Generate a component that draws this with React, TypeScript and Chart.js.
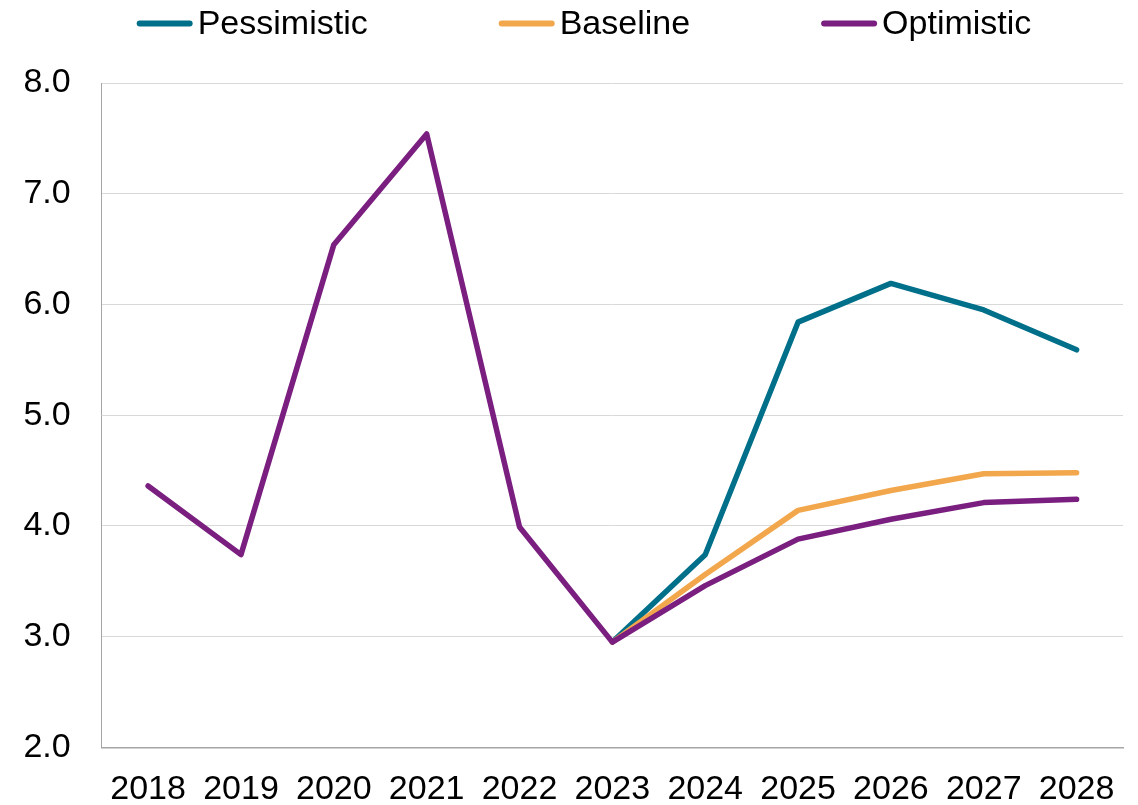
import React, { useEffect, useRef } from "react";
import { Chart, registerables } from "chart.js";

Chart.register(...registerables);

// Years on the horizontal axis
const years = ["2018", "2019", "2020", "2021", "2022", "2023", "2024", "2025", "2026", "2027", "2028"];

// Scenario paths; the two alternative scenarios branch off in 2023
const pessimistic = [null, null, null, null, null, 2.95, 3.74, 5.84, 6.19, 5.95, 5.59];
const baseline = [null, null, null, null, null, 2.95, 3.56, 4.14, 4.32, 4.47, 4.48];
const optimistic = [4.36, 3.74, 6.54, 7.54, 3.99, 2.95, 3.46, 3.88, 4.06, 4.21, 4.24];

const seriesLabels = ["Pessimistic", "Baseline", "Optimistic"];
const seriesColors = ["#006F8A", "#F2A74C", "#7A1F80"];

const yMin = 2;
const yMax = 8;
const yStep = 1;

const FONT = "Arial, 'Liberation Sans', sans-serif";
const FONT_SIZE = 34;

// Line-swatch legend drawn across the top of the canvas
const topLegend = {
  id: "topLegend",
  afterDraw(chart: any) {
    const ctx = chart.ctx as CanvasRenderingContext2D;
    const swatch = 56;
    const gap = 5;
    const itemGap = 131;
    const centerX = 584;
    const lineY = 23.5;
    const textY = 33.5;
    ctx.save();
    ctx.font = `${FONT_SIZE}px ${FONT}`;
    const items = chart.data.datasets.map((ds: any) => ({
      text: ds.label as string,
      color: ds.borderColor as string,
      w: ctx.measureText(ds.label).width,
    }));
    const total =
      items.reduce((s: number, it: any) => s + swatch + gap + it.w, 0) +
      itemGap * (items.length - 1);
    let x = centerX - total / 2;
    for (const it of items) {
      ctx.beginPath();
      ctx.lineCap = "round";
      ctx.lineWidth = 6;
      ctx.strokeStyle = it.color;
      ctx.moveTo(x + 3, lineY);
      ctx.lineTo(x + swatch - 3, lineY);
      ctx.stroke();
      ctx.fillStyle = "#000";
      ctx.textAlign = "left";
      ctx.textBaseline = "alphabetic";
      ctx.fillText(it.text, x + swatch + gap, textY);
      x += swatch + gap + it.w + itemGap;
    }
    ctx.restore();
  },
};

export default function App() {
  const canvasRef = useRef<HTMLCanvasElement | null>(null);

  useEffect(() => {
    if (!canvasRef.current) return;
    const seriesData = [pessimistic, baseline, optimistic];
    const drawOrder = [3, 2, 1];
    const chart = new Chart(canvasRef.current, {
      type: "line",
      data: {
        labels: years,
        datasets: seriesData.map((d, i) => ({
          label: seriesLabels[i],
          data: d,
          borderColor: seriesColors[i],
          backgroundColor: seriesColors[i],
          borderWidth: 5.5,
          borderCapStyle: "round" as const,
          borderJoinStyle: "round" as const,
          pointRadius: 0,
          pointHoverRadius: 0,
          tension: 0,
          order: drawOrder[i],
        })),
      },
      options: {
        animation: false,
        responsive: false,
        maintainAspectRatio: false,
        layout: { padding: { top: 83, right: 15, left: 0, bottom: 0 } },
        plugins: {
          legend: { display: false },
          tooltip: { enabled: false },
        },
        scales: {
          x: {
            offset: true,
            grid: { display: false, drawTicks: false },
            border: { display: true, color: "#A6A6A6", width: 1.5 },
            ticks: {
              color: "#000",
              padding: 22,
              maxRotation: 0,
              autoSkip: false,
              font: { family: FONT, size: FONT_SIZE, lineHeight: 1.2 },
            },
            afterFit(scale: any) {
              scale.height = 57.7;
            },
          },
          y: {
            min: yMin,
            max: yMax,
            grid: { color: "#D9D9D9", lineWidth: 1, drawTicks: false },
            border: { display: true, color: "#A6A6A6", width: 1 },
            ticks: {
              stepSize: yStep,
              color: "#000",
              padding: 31,
              font: { family: FONT, size: FONT_SIZE, lineHeight: 1.2 },
              callback: (v: any) => Number(v).toFixed(1),
            },
            afterFit(scale: any) {
              scale.width = 101.7;
            },
          },
        },
      },
      plugins: [topLegend],
    });
    return () => chart.destroy();
  }, []);

  return (
    <div style={{ position: "fixed", left: 0, top: 0, width: 1138, height: 805, background: "#fff" }}>
      <canvas ref={canvasRef} width={1138} height={805} style={{ width: 1138, height: 805, display: "block" }} />
    </div>
  );
}
